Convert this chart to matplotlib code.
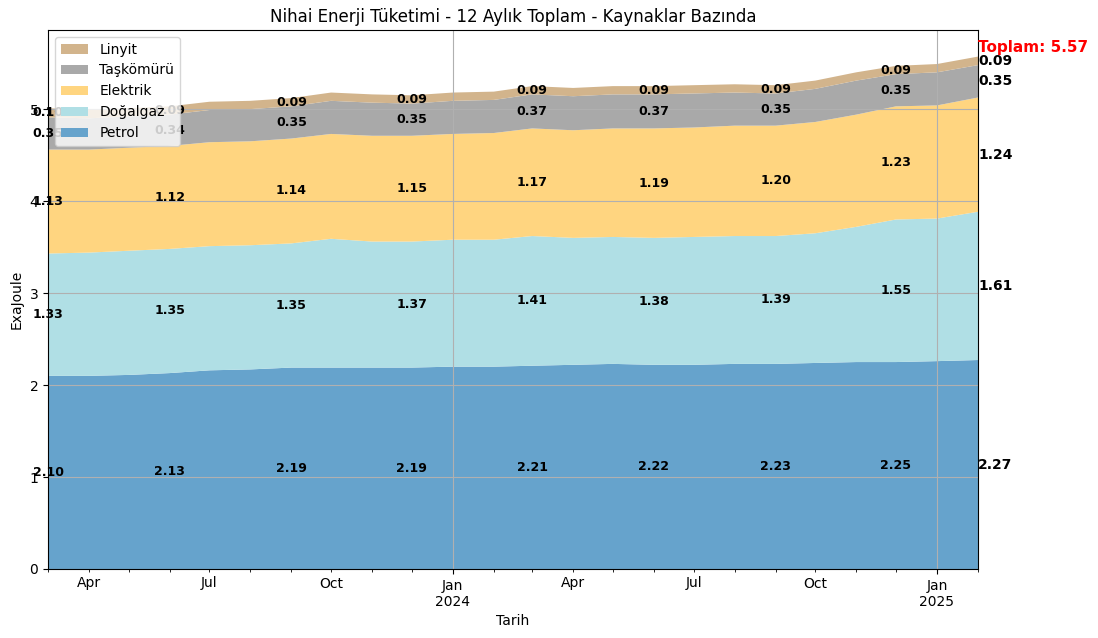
import numpy as np
import pandas as pd
import matplotlib
matplotlib.use("Agg")
import matplotlib.pyplot as plt
import matplotlib.dates as mdates
from matplotlib.ticker import FixedLocator, FuncFormatter

tarih = pd.date_range("2023-03-01", "2025-02-01", freq="MS")
petrol = [2.10, 2.10, 2.11, 2.13, 2.16, 2.17, 2.19, 2.19, 2.19, 2.19, 2.20, 2.20,
          2.21, 2.22, 2.23, 2.22, 2.22, 2.23, 2.23, 2.24, 2.25, 2.25, 2.26, 2.272]
dogalgaz = [1.33, 1.34, 1.35, 1.35, 1.35, 1.35, 1.35, 1.40, 1.37, 1.37, 1.38, 1.38,
            1.41, 1.38, 1.38, 1.38, 1.39, 1.39, 1.39, 1.41, 1.47, 1.55, 1.55, 1.612]
elektrik = [1.13, 1.12, 1.12, 1.12, 1.13, 1.13, 1.14, 1.14, 1.15, 1.15, 1.15, 1.16,
            1.17, 1.17, 1.18, 1.19, 1.19, 1.20, 1.20, 1.21, 1.22, 1.23, 1.23, 1.242]
taskomuru = [0.35, 0.34, 0.34, 0.34, 0.35, 0.35, 0.35, 0.36, 0.36, 0.35, 0.36, 0.36,
             0.37, 0.37, 0.37, 0.37, 0.37, 0.36, 0.35, 0.36, 0.37, 0.35, 0.36, 0.352]
linyit = [0.10, 0.09, 0.09, 0.09, 0.09, 0.09, 0.09, 0.09, 0.09, 0.09, 0.09, 0.09,
          0.09, 0.09, 0.09, 0.09, 0.09, 0.09, 0.09, 0.09, 0.09, 0.09, 0.09, 0.093]

isimler = ["Petrol", "Doğalgaz", "Elektrik", "Taşkömürü", "Linyit"]
seriler = [petrol, dogalgaz, elektrik, taskomuru, linyit]
renkler = ["#66a3cc", "#b0dfe5", "#ffd580", "#a9a9a9", "#d2b48c"]

fig = plt.figure(figsize=(10.98, 6.38), dpi=100)
ax = fig.add_axes([48/1098, 1-569/638, 930/1098, 539/638])
x = mdates.date2num(tarih)
ax.stackplot(x, *seriler, labels=isimler, colors=renkler)

veri = np.array(seriler)
kum = np.cumsum(veri, axis=0)
for i in list(range(0, len(x), 3)):
    for k in range(len(seriler)):
        y = kum[k, i] - veri[k, i] / 2
        ax.text(x[i], y, f"{veri[k, i]:.2f}", ha="center", va="center",
                fontsize=9, fontweight="bold")
son = len(x) - 1
for k in range(len(seriler)):
    y = kum[k, son] - veri[k, son] / 2
    ax.text(x[son], y, f"{veri[k, son]:.2f}", ha="left", va="center",
            fontsize=10, fontweight="bold")
ax.text(x[son], kum[-1, son] + 0.1, f"Toplam: {kum[-1, son]:.2f}", ha="left",
        va="center", fontsize=11, fontweight="bold", color="red")

ax.set_xlim(x[0], x[-1])
ax.set_ylim(0, 5.86)
ax.set_yticks([0, 1, 2, 3, 4, 5])
majors = mdates.date2num(pd.to_datetime(["2024-01-01", "2025-01-01"]))
ax.xaxis.set_major_locator(FixedLocator(majors))
ax.xaxis.set_major_formatter(FuncFormatter(lambda v, p: mdates.num2date(v).strftime("Jan\n%Y")))
ax.xaxis.set_minor_locator(FixedLocator(x))
ax.xaxis.set_minor_formatter(FuncFormatter(
    lambda v, p: mdates.num2date(v).strftime("%b") if mdates.num2date(v).month in (4, 7, 10) else ""))
ax.grid(True, which="major")
ax.set_title("Nihai Enerji Tüketimi - 12 Aylık Toplam - Kaynaklar Bazında")
ax.set_xlabel("Tarih")
ax.set_ylabel("ExaJoule")
h, l = ax.get_legend_handles_labels()
leg = ax.legend(h[::-1], l[::-1], loc="upper left")
leg.set_zorder(5)
fig.savefig("out.png", dpi=100)
